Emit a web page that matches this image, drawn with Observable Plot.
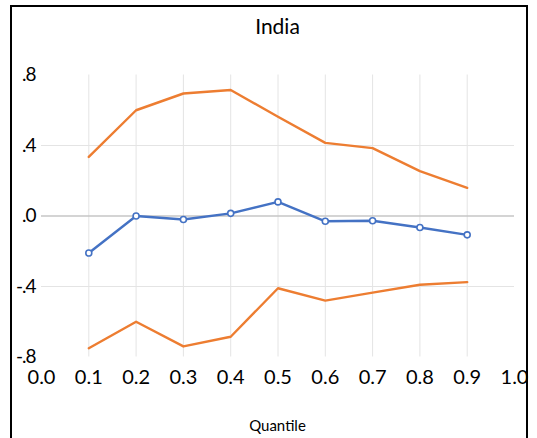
<!DOCTYPE html>
<html>
<head>
<meta charset="utf-8">
<script src="https://cdn.jsdelivr.net/npm/d3@7"></script>
<script src="https://cdn.jsdelivr.net/npm/@observablehq/plot@0.6"></script>
<style>
  html, body { margin: 0; padding: 0; background: #fff; overflow: hidden; }
  body { width: 537px; height: 438px; position: relative; font-family: Lato, "Open Sans", sans-serif; }
  #frame {
    position: absolute; left: 10px; top: 5px; width: 518px; height: 460px;
    box-sizing: border-box; border: 2px solid #000; background: #fff;
  }
  #title {
    position: absolute; left: 41px; width: 473px; top: 14px;
    text-align: center; font-size: 21px; line-height: 24px; color: #000;
  }
  #chart { position: absolute; left: 0; top: 55px; }
  #chart svg { overflow: visible; }
  #caption {
    position: absolute; left: 41px; width: 473px; top: 416px;
    text-align: center; font-size: 15px; line-height: 18px; color: #000;
  }
</style>
</head>
<body>
<div id="frame"></div>
<div id="title">India</div>
<div id="chart"></div>
<div id="caption">Quantile</div>
<script>
// Quantile regression coefficients with confidence bounds
const quantiles  = [0.1, 0.2, 0.3, 0.4, 0.5, 0.6, 0.7, 0.8, 0.9];
const estimate   = [-0.21, 0.0, -0.02, 0.015, 0.08, -0.03, -0.027, -0.065, -0.107];
const upperBound = [0.335, 0.60, 0.695, 0.715, 0.563, 0.415, 0.385, 0.255, 0.16];
const lowerBound = [-0.75, -0.60, -0.74, -0.685, -0.41, -0.48, -0.435, -0.39, -0.375];

const xTicks = [0, 0.1, 0.2, 0.3, 0.4, 0.5, 0.6, 0.7, 0.8, 0.9, 1.0];
const yTicks = [-0.8, -0.4, 0, 0.4, 0.8];
const yGrid  = [-0.4, 0.4];

const rows = quantiles.map((q, i) => ({
  q, est: estimate[i], hi: upperBound[i], lo: lowerBound[i]
}));

const blue = "#4472C4";
const orange = "#ED7D31";

// ".8", ".4", ".0", "-.4", "-.8" with a plain hyphen for negatives
const yLabel = d => d === 0 ? ".0" : (d < 0 ? "-" : "") + Math.abs(d).toFixed(1).replace(/^0/, "");

const chart = Plot.plot({
  width: 537,
  height: 340,
  marginLeft: 41,
  marginRight: 23,
  marginTop: 19.5,
  marginBottom: 38.5,
  style: { fontFamily: "Lato, 'Open Sans', sans-serif", background: "transparent", overflow: "visible" },
  x: { domain: [0, 1], ticks: xTicks },
  y: { domain: [-0.8, 0.8], ticks: yTicks },
  marks: [
    Plot.ruleX(quantiles, { y1: -0.8, y2: 0.8, stroke: "#e4e4e4", strokeWidth: 1 }),
    Plot.ruleY(yGrid, { stroke: "#e4e4e4", strokeWidth: 1 }),
    Plot.ruleY([0], { stroke: "#c6c6c6", strokeWidth: 1.5 }),
    Plot.axisX(xTicks, {
      tickSize: 0, tickPadding: 13, fontSize: 20, fill: "#000",
      tickFormat: d => d.toFixed(1), label: null
    }),
    Plot.axisY(yTicks, {
      tickSize: 0, tickPadding: 6, fontSize: 19, fill: "#000",
      tickFormat: yLabel, label: null
    }),
    Plot.line(rows, { x: "q", y: "hi", stroke: orange, strokeWidth: 2.4 }),
    Plot.line(rows, { x: "q", y: "lo", stroke: orange, strokeWidth: 2.4 }),
    Plot.line(rows, { x: "q", y: "est", stroke: blue, strokeWidth: 2.4 }),
    Plot.dot(rows, { x: "q", y: "est", r: 3, fill: "#fff", stroke: blue, strokeWidth: 1.6 })
  ]
});

// Tighten the y labels a touch so the minus sign clears the frame
chart.querySelectorAll("[aria-label='y-axis tick label'] text").forEach(t => t.setAttribute("letter-spacing", "-1"));

document.getElementById("chart").appendChild(chart);
</script>
</body>
</html>
